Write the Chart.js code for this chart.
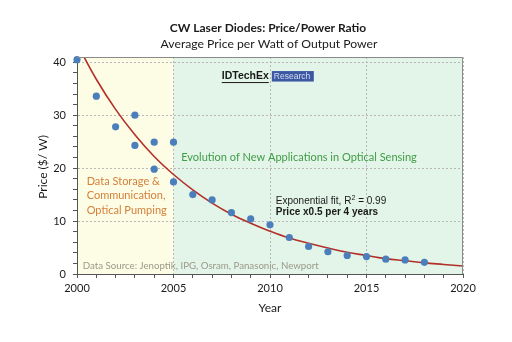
<!DOCTYPE html>
<html>
<head>
<meta charset="utf-8">
<script src="https://cdn.jsdelivr.net/npm/chart.js"></script>
<style>
  body { margin: 0; background: #ffffff; }
  canvas { display: block; }
</style>
</head>
<body>
<canvas id="priceChart" width="512" height="342"></canvas>
<script>
// Measured prices ($/W) by year
const pointYears = [2000, 2001, 2002, 2003, 2003, 2004, 2004, 2005, 2005, 2006, 2007,
                    2008, 2009, 2010, 2011, 2012, 2013, 2014, 2015, 2016, 2017, 2018];
const pointPrices = [40.5, 33.6, 27.8, 30.0, 24.3, 24.9, 19.8, 24.9, 17.4, 15.0, 14.0,
                     11.6, 10.4, 9.3, 6.9, 5.2, 4.2, 3.5, 3.3, 2.8, 2.65, 2.2];

// Exponential fit line
const fitYears = [2000, 2001, 2002, 2003, 2004, 2005, 2006, 2007, 2008, 2009, 2010,
                  2011, 2012, 2013, 2014, 2015, 2016, 2017, 2018, 2019, 2020];
const fitPrices = [43.5, 36.8, 31.1, 26.3, 22.2, 18.8, 15.9, 13.4, 11.3, 9.6, 8.1,
                   6.8, 5.8, 4.9, 4.1, 3.5, 2.9, 2.5, 2.1, 1.8, 1.5];

const yTickLabels = [0, 10, 20, 30, 40];
const xTickLabels = [2000, 2005, 2010, 2015, 2020];

const FONT = 'Lato, "Open Sans", sans-serif';

// Background bands + text annotations
const decorPlugin = {
    id: 'decor',
    beforeDraw(chart) {
        const { ctx, chartArea: a, scales: { x } } = chart;
        const x05 = x.getPixelForValue(2005);
        ctx.save();
        ctx.fillStyle = '#fdfce4';
        ctx.fillRect(a.left, a.top, x05 - a.left, a.bottom - a.top);
        ctx.fillStyle = '#e3f4e8';
        ctx.fillRect(x05, a.top, a.right - x05, a.bottom - a.top);
        ctx.restore();
    },
    afterDatasetsDraw(chart) {
        const { ctx, chartArea: a, scales: { x, y } } = chart;
        ctx.save();

        // top and right frame
        ctx.strokeStyle = '#8a8a8a';
        ctx.lineWidth = 1;
        ctx.beginPath();
        ctx.moveTo(a.left, a.top + 0.5);
        ctx.lineTo(a.right - 0.5, a.top + 0.5);
        ctx.lineTo(a.right - 0.5, a.bottom);
        ctx.stroke();

        ctx.textBaseline = 'middle';
        ctx.textAlign = 'left';

        // IDTechEx logo
        let lx = x.getPixelForValue(2007.5), ly = y.getPixelForValue(37.4);
        ctx.font = 'bold 10.5px "Liberation Sans", Arial, sans-serif';
        ctx.fillStyle = '#1a1a1a';
        ctx.fillText('IDTechEx', lx, ly);
        const w = ctx.measureText('IDTechEx').width;
        ctx.fillRect(lx, ly + 6, w, 1);
        ctx.fillStyle = '#3c58a3';
        ctx.fillRect(lx + w + 3, ly - 5, 42, 10.5);
        ctx.fillStyle = '#d8def0';
        ctx.font = '8.5px "Liberation Sans", Arial, sans-serif';
        ctx.fillText('Research', lx + w + 5, ly + 0.5);

        // green band label
        ctx.font = '11px ' + FONT;
        ctx.fillStyle = '#3f9d45';
        ctx.fillText('Evolution of New Applications in Optical Sensing',
                     x.getPixelForValue(2005.4), y.getPixelForValue(22.1));

        // orange band label
        ctx.fillStyle = '#d4803c';
        const ox = x.getPixelForValue(2000.5);
        const oy = y.getPixelForValue(17.5);
        ['Data Storage &', 'Communication,', 'Optical Pumping'].forEach((t, i) => {
            ctx.fillText(t, ox, oy + i * 14.3);
        });

        // fit note
        const fx = x.getPixelForValue(2010.3);
        ctx.fillStyle = '#1a1a1a';
        ctx.font = '10px "Liberation Sans", Arial, sans-serif';
        const fy = y.getPixelForValue(13.8);
        const part1 = 'Exponential fit, R';
        ctx.fillText(part1, fx, fy);
        const p1w = ctx.measureText(part1).width;
        ctx.font = '7px "Liberation Sans", Arial, sans-serif';
        ctx.fillText('2', fx + p1w, fy - 3);
        ctx.font = '10px "Liberation Sans", Arial, sans-serif';
        ctx.fillText(' = 0.99', fx + p1w + 4, fy);
        ctx.font = 'bold 10px "Liberation Sans", Arial, sans-serif';
        ctx.fillText('Price x0.5 per 4 years', fx, y.getPixelForValue(11.6));

        // data source
        ctx.font = '9.7px ' + FONT;
        ctx.fillStyle = '#9a9a8a';
        ctx.fillText('Data Source: Jenoptik, IPG, Osram, Panasonic, Newport',
                     x.getPixelForValue(2000.3), y.getPixelForValue(1.6));

        ctx.restore();
    },
    afterDraw(chart) {
        const { ctx, chartArea: a } = chart;
        ctx.save();
        ctx.fillStyle = '#1a1a1a';
        ctx.textAlign = 'center';
        ctx.textBaseline = 'middle';
        ctx.font = 'bold 12px ' + FONT;
        ctx.fillText('CW Laser Diodes: Price/Power Ratio', 268, 28);
        ctx.font = '12.2px ' + FONT;
        ctx.fillText('Average Price per Watt of Output Power', 269, 44);

        // axis titles
        ctx.font = '12px ' + FONT;
        ctx.fillText('Year', (a.left + a.right) / 2, 308);
        ctx.translate(43, 167);
        ctx.rotate(-Math.PI / 2);
        ctx.fillText('Price ($/ W)', 0, 0);
        ctx.restore();
    }
};

const ctx = document.getElementById('priceChart').getContext('2d');

new Chart(ctx, {
    type: 'scatter',
    data: {
        datasets: [
            {
                label: 'Price',
                data: pointYears.map((yr, i) => ({ x: yr, y: pointPrices[i] })),
                backgroundColor: '#4b7fbb',
                borderColor: '#4b7fbb',
                pointRadius: 3.6,
                pointBorderWidth: 0,
                clip: false,
                order: 0
            },
            {
                label: 'Exponential fit',
                data: fitYears.map((yr, i) => ({ x: yr, y: fitPrices[i] })),
                showLine: true,
                borderColor: '#b3302a',
                borderWidth: 1.6,
                pointRadius: 0,
                tension: 0.4,
                fill: false,
                order: 1
            }
        ]
    },
    options: {
        responsive: false,
        animation: false,
        maintainAspectRatio: false,
        layout: {
            padding: { left: 0, right: 49, top: 57, bottom: 0 }
        },
        plugins: {
            legend: { display: false },
            tooltip: { enabled: false }
        },
        scales: {
            x: {
                type: 'linear',
                min: 2000,
                max: 2020,
                afterFit: (scale) => { scale.height = 68; },
                ticks: {
                    stepSize: 1,
                    autoSkip: false,
                    maxRotation: 0,
                    padding: 4,
                    color: '#1a1a1a',
                    font: { family: FONT, size: 11 },
                    callback: (v) => xTickLabels.includes(v) ? String(v) : ''
                },
                grid: {
                    color: (c) => (c.tick && c.tick.value % 5 === 0) ? '#b8b8b8' : 'rgba(0,0,0,0)',
                    tickColor: '#555',
                    tickLength: 4,
                    tickBorderDash: [],
                    lineWidth: 1
                },
                border: { color: '#555', width: 1, dash: [2, 2] }
            },
            y: {
                min: 0,
                max: 41,
                afterFit: (scale) => { scale.width = 77; },
                afterBuildTicks: (scale) => {
                    scale.ticks = [];
                    for (let v = 0; v <= 40; v += 2) scale.ticks.push({ value: v });
                },
                ticks: {
                    autoSkip: false,
                    padding: 7,
                    color: '#1a1a1a',
                    font: { family: FONT, size: 11 },
                    callback: (v) => yTickLabels.includes(v) ? String(v) : ''
                },
                grid: {
                    color: (c) => (c.tick && c.tick.value % 10 === 0 && c.tick.value > 0) ? '#b8b8b8' : 'rgba(0,0,0,0)',
                    tickColor: '#555',
                    tickLength: 4,
                    tickBorderDash: [],
                    lineWidth: 1
                },
                border: { color: '#555', width: 1, dash: [2, 2] }
            }
        }
    },
    plugins: [decorPlugin]
});
</script>
</body>
</html>
